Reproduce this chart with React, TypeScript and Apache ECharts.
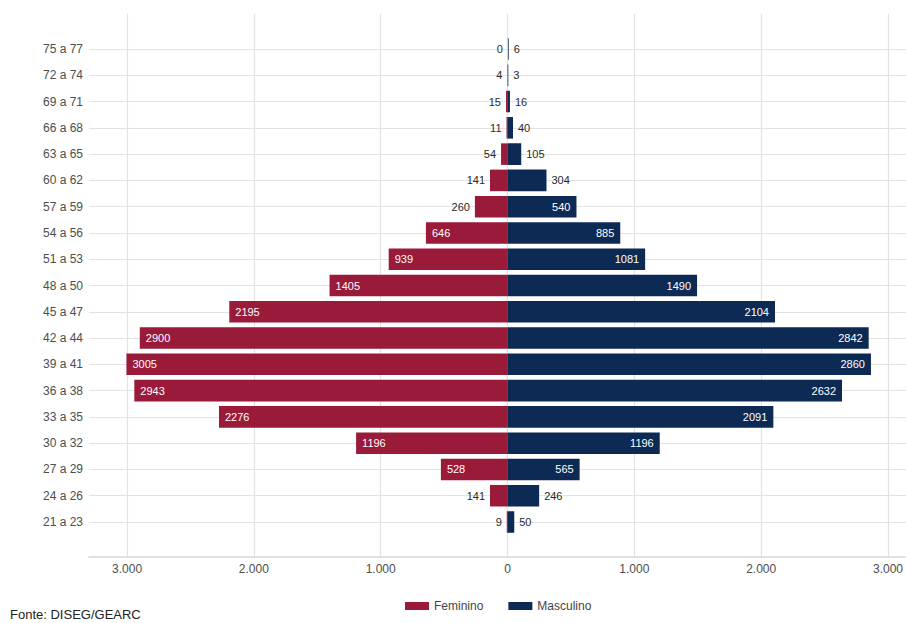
import React, { useEffect, useRef } from "react";
import * as echarts from "echarts";

const categories = [
  "75 a 77", "72 a 74", "69 a 71", "66 a 68", "63 a 65", "60 a 62", "57 a 59",
  "54 a 56", "51 a 53", "48 a 50", "45 a 47", "42 a 44", "39 a 41", "36 a 38",
  "33 a 35", "30 a 32", "27 a 29", "24 a 26", "21 a 23",
];
const feminino = [0, 4, 15, 11, 54, 141, 260, 646, 939, 1405, 2195, 2900, 3005, 2943, 2276, 1196, 528, 141, 9];
const masculino = [6, 3, 16, 40, 105, 304, 540, 885, 1081, 1490, 2104, 2842, 2860, 2632, 2091, 1196, 565, 246, 50];
const seriesNames = ["Feminino", "Masculino"];
const sourceText = "Fonte: DISEG/GEARC";

const RED = "#9a1a3a";
const BLUE = "#0d2a55";
const FONT = "'Liberation Sans', Arial, sans-serif";
const INSIDE_MIN = 400;
const X_MIN = -3300;
const X_MAX = 3136;

const fmtThousands = (v: number) =>
  String(Math.round(Math.abs(v))).replace(/\B(?=(\d{3})+(?!\d))/g, ".");

export default function App() {
  const ref = useRef<HTMLDivElement>(null);
  useEffect(() => {
    if (!ref.current) return;
    const chart = echarts.init(ref.current, null, { renderer: "svg" });

    const femData = feminino.map((v) => ({
      value: -v,
      label:
        v >= INSIDE_MIN
          ? { position: "insideLeft", color: "#ffffff", distance: 6 }
          : { position: "left", color: "#2a2a2a", distance: 5 },
    }));
    const mascData = masculino.map((v) => ({
      value: v,
      label:
        v >= INSIDE_MIN
          ? { position: "insideRight", color: "#ffffff", distance: 6 }
          : { position: "right", color: "#2a2a2a", distance: 5 },
    }));

    const gridLine = { color: "#e3e3e3", width: 1.2 };

    chart.setOption({
      animation: false,
      backgroundColor: "#ffffff",
      textStyle: { fontFamily: FONT },
      grid: [
        { left: 89, right: -2, top: 14, height: 543 },
        { left: 89, right: -2, top: 49, height: 473 },
      ],
      xAxis: [
        {
          type: "value",
          gridIndex: 0,
          min: X_MIN,
          max: X_MAX,
          axisLine: { show: true, lineStyle: { color: "#d9d9d9", width: 1.5 } },
          axisTick: { show: false },
          axisLabel: {
            showMinLabel: false,
            showMaxLabel: false,
            color: "#4d4d4d",
            fontSize: 12,
            fontFamily: FONT,
            margin: 6,
            formatter: (v: number) => fmtThousands(v),
          },
          splitLine: { show: true, showMinLine: false, showMaxLine: false, lineStyle: gridLine },
        },
        {
          type: "value",
          gridIndex: 1,
          min: X_MIN,
          max: X_MAX,
          show: false,
        },
      ],
      yAxis: [
        { type: "value", gridIndex: 0, min: 0, max: 1, show: false },
        {
          type: "category",
          gridIndex: 1,
          data: categories,
          inverse: true,
          boundaryGap: false,
          axisLine: { show: false },
          axisTick: { show: false },
          axisLabel: { color: "#4d4d4d", fontSize: 12, fontFamily: FONT, margin: 6 },
          splitLine: { show: true, lineStyle: gridLine },
        },
      ],
      legend: {
        data: seriesNames,
        left: 400,
        top: 595,
        icon: "rect",
        itemWidth: 24,
        itemHeight: 8,
        itemGap: 25,
        textStyle: { color: "#444", fontSize: 12, fontFamily: FONT },
      },
      graphic: [
        {
          type: "text",
          left: 10,
          top: 608,
          style: { text: sourceText, fill: "#222", fontSize: 13, fontFamily: FONT },
        },
      ],
      series: [
        {
          name: seriesNames[0],
          type: "bar",
          xAxisIndex: 1,
          yAxisIndex: 1,
          data: femData,
          barWidth: "82%",
          barGap: "-100%",
          clip: false,
          itemStyle: { color: RED },
          label: {
            show: true,
            fontSize: 11,
            fontFamily: FONT,
            formatter: (p: any) => String(Math.abs(p.value)),
          },
        },
        {
          name: seriesNames[1],
          type: "bar",
          xAxisIndex: 1,
          yAxisIndex: 1,
          data: mascData,
          barWidth: "82%",
          barGap: "-100%",
          clip: false,
          itemStyle: { color: BLUE },
          label: {
            show: true,
            fontSize: 11,
            fontFamily: FONT,
            formatter: (p: any) => String(Math.abs(p.value)),
          },
        },
      ],
    });
    return () => chart.dispose();
  }, []);
  return (
    <div
      ref={ref}
      style={{ position: "fixed", left: 0, top: 0, width: 906, height: 623 }}
    />
  );
}
